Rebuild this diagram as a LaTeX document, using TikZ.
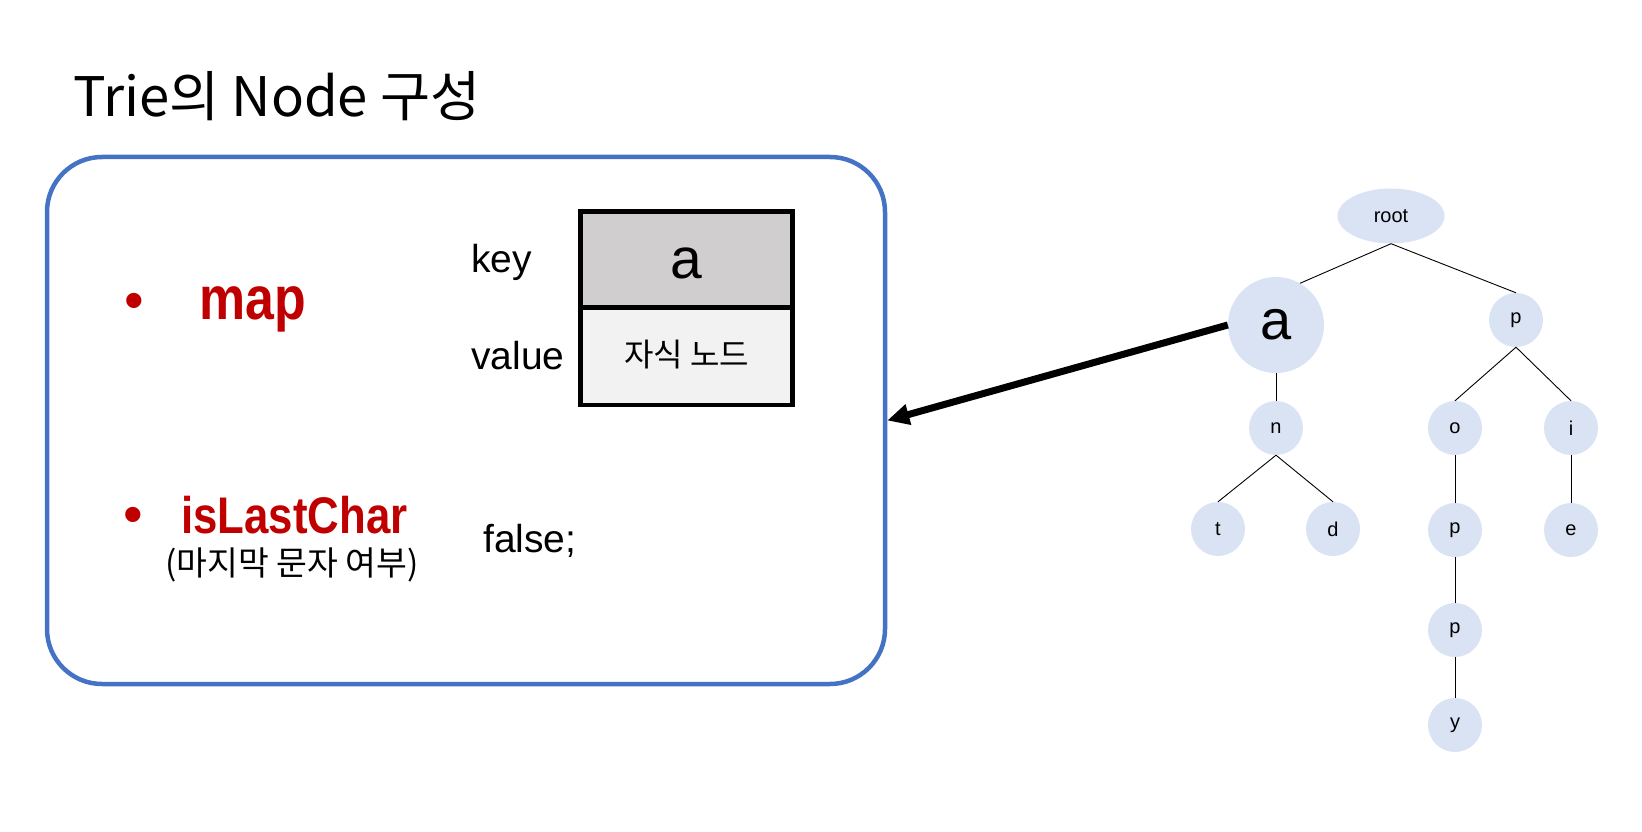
\documentclass[tikz,border=0pt]{standalone}
\usepackage{fontspec}
\setmainfont{Liberation Sans}
\newfontfamily\kr{Noto Sans CJK KR}
\newfontfamily\nb[FakeStretch=0.85]{Liberation Sans}
\usetikzlibrary{shapes.geometric,arrows.meta}
\definecolor{boxblue}{HTML}{4472C4}
\definecolor{textred}{HTML}{C00000}
\definecolor{tfill}{HTML}{DAE3F3}
\definecolor{keygray}{HTML}{D0CECE}
\definecolor{valgray}{HTML}{F2F2F2}
\tikzset{
  fs/.style={font=\fontsize{#1}{#1}\selectfont},
  lbl/.style={anchor=base west, inner sep=0pt},
  redlbl/.style={anchor=base west, inner sep=0pt, text=textred},
  tnode/.style={circle, fill=tfill, minimum size=54pt, inner sep=0pt, font=\fontsize{20}{20}\selectfont},
  cell/.style={draw=black, line width=4.5pt, minimum width=212pt, inner sep=0pt},
  edge/.style={draw=black, line width=0.9pt}
}
\begin{document}
\begin{tikzpicture}[x=1pt,y=-1pt]
\useasboundingbox (0,0) rectangle (1642,832);
% title
\node[lbl, font=\kr\fontsize{54.5}{54.5}\selectfont] (title) at (73,117) {Trie의 Node 구성};
% blue box
\node[draw=boxblue, line width=4.5pt, rounded corners=55pt, minimum width=838pt, minimum height=527pt, inner sep=0pt] (box) at (466,420.5) {};
% bullets
\node[redlbl, anchor=base, font=\fontsize{56}{56}\selectfont] (b1) at (134,319) {•};
\node[redlbl, font=\nb\bfseries\fontsize{61}{61}\selectfont] (map) at (199,319) {map};
\node[redlbl, anchor=base, font=\fontsize{56}{56}\selectfont] (b2) at (133,533) {•};
\node[redlbl, font=\nb\bfseries\fontsize{51.5}{51.5}\selectfont] (islc) at (181,533) {isLastChar};
\node[lbl, font=\kr\fontsize{33.5}{33.5}\selectfont] (kor) at (165,575) {(마지막 문자 여부)};
% key / value
\node[lbl, fs=39] (key) at (471,272) {key};
\node[lbl, fs=39] (value) at (471,369) {value};
\node[lbl, fs=39] (false) at (483,552) {false;};
\node[cell, fill=keygray, minimum height=96pt] (kcell) at (686.5,259.5) {};
\node[cell, fill=valgray, minimum height=97pt] (vcell) at (686.5,356.5) {};
\node[fs=57, inner sep=0pt] (ktext) at (686.5,263) {a};
\node[font=\kr\fontsize{32}{32}\selectfont, inner sep=0pt] (vtext) at (686.5,355) {자식 노드};
% tree
\node[ellipse, fill=tfill, minimum width=107pt, minimum height=55pt, inner sep=0pt, font=\fontsize{20}{20}\selectfont] (root) at (1391,216) {root};
\node[tnode, minimum size=96pt, font=\fontsize{56}{56}\selectfont] (a) at (1276,325) {a};
\node[tnode] (p1) at (1516,320) {p};
\node[tnode] (n) at (1276,428) {n};
\node[tnode] (o) at (1455,428) {o};
\node[tnode] (i) at (1571,428) {i};
\node[tnode] (t) at (1218,529) {t};
\node[tnode] (d) at (1333,529) {d};
\node[tnode] (p2) at (1455,530) {p};
\node[tnode] (e) at (1571,530) {e};
\node[tnode] (p3) at (1455,630) {p};
\node[tnode] (y) at (1455,725) {y};
\draw[edge] (root.south) -- (a.60);
\draw[edge] (root.south) -- (p1.north);
\draw[edge] (a.south) -- (n.north);
\draw[edge] (n.south) -- (t.north);
\draw[edge] (n.south) -- (d.north);
\draw[edge] (p1.south) -- (o.north);
\draw[edge] (p1.south) -- (i.north);
\draw[edge] (o.south) -- (p2.north);
\draw[edge] (p2.south) -- (p3.north);
\draw[edge] (p3.south) -- (y.north);
\draw[edge] (i.south) -- (e.north);
% arrow
\draw[line width=7pt, -{Triangle[length=22pt,width=20pt]}] (a.west) -- (box.east);
\end{tikzpicture}
\end{document}
